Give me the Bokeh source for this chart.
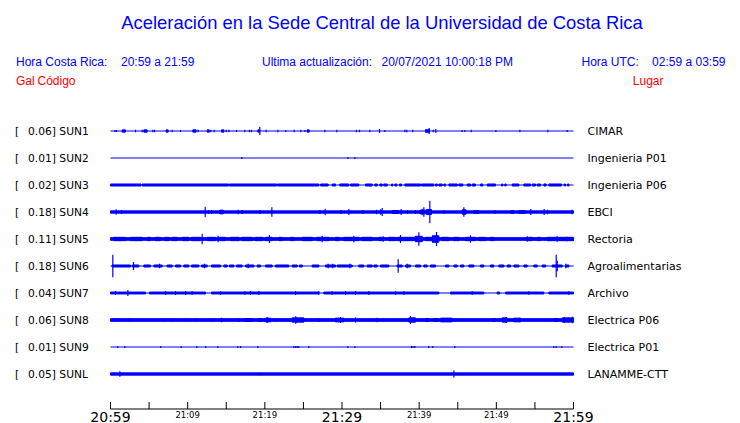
from bokeh.plotting import figure
from bokeh.models import Range1d
from bokeh.core.properties import value
from bokeh.embed import file_html
from bokeh.resources import INLINE

# ---------------- data ----------------
STATIONS = ["SUN1", "SUN2", "SUN3", "SUN4", "SUN5", "SUN6", "SUN7", "SUN8", "SUN9", "SUNL"]
MAX_GAL = ["0.06", "0.01", "0.02", "0.18", "0.11", "0.18", "0.04", "0.06", "0.01", "0.05"]
PLACES = ["CIMAR", "Ingenieria P01", "Ingenieria P06", "EBCI", "Rectoria",
          "Agroalimentarias", "Archivo", "Electrica P06", "Electrica P01", "LANAMME-CTT"]

# background amplitude (Gal) kept over the whole hour
BASE_GAL = [0.0, 0.0, 0.0, 0.019, 0.022, 0.0, 0.0, 0.022, 0.0, 0.019]

# sustained bursts: (start minute, end minute, half amplitude Gal)
SUN1_BLOCKS = [(1.51, 1.94, 0.019), (4.32, 4.75, 0.019), (7.21, 7.47, 0.019), (10.67, 11.10, 0.019),
               (12.53, 12.79, 0.019), (14.39, 14.69, 0.019), (19.09, 19.35, 0.019), (25.49, 25.75, 0.019),
               (40.82, 41.34, 0.022)]
SUN2_BLOCKS = []
SUN3_BLOCKS = [(0.0, 3.95, 0.017), (4.1, 15.3, 0.017), (15.4, 21.55, 0.017), (21.65, 27.0, 0.017),
               (27.22, 28.21, 0.017), (28.73, 29.16, 0.017), (29.72, 30.89, 0.017), (31.10, 32.18, 0.017),
               (33.05, 33.91, 0.017), (34.26, 34.56, 0.017), (34.91, 35.21, 0.017), (35.42, 35.86, 0.017),
               (36.42, 36.59, 0.017), (36.85, 37.11, 0.017), (37.45, 37.71, 0.017), (38.15, 40.18, 0.017),
               (40.31, 41.90, 0.017), (42.12, 42.34, 0.017), (42.55, 42.98, 0.017), (43.20, 43.42, 0.017),
               (43.85, 44.93, 0.017), (45.14, 45.66, 0.017), (46.22, 46.66, 0.017), (46.87, 47.30, 0.017),
               (47.95, 48.25, 0.017), (48.82, 49.90, 0.017), (50.67, 50.85, 0.017), (51.10, 51.28, 0.017),
               (52.06, 52.92, 0.017), (53.57, 54.43, 0.017), (54.65, 55.08, 0.017), (55.30, 55.73, 0.017),
               (56.16, 56.46, 0.017), (56.81, 58.45, 0.017), (58.80, 58.97, 0.017), (59.23, 59.40, 0.017)]
SUN4_BLOCKS = [(14.17, 14.60, 0.031), (36.50, 37.37, 0.025), (40.09, 40.74, 0.031), (40.91, 41.60, 0.042),
               (45.57, 46.09, 0.036), (47.09, 47.74, 0.025), (51.84, 52.27, 0.022), (52.92, 53.78, 0.022)]
SUN5_BLOCKS = [(0.43, 1.94, 0.028), (2.59, 4.10, 0.028), (4.75, 5.18, 0.028), (5.83, 6.48, 0.028),
               (7.04, 7.56, 0.028), (7.99, 8.64, 0.028), (9.29, 10.15, 0.028), (10.50, 11.66, 0.028),
               (12.53, 13.61, 0.028), (14.04, 14.90, 0.028), (15.55, 16.63, 0.028), (17.06, 18.36, 0.028),
               (18.79, 19.66, 0.028), (20.09, 20.95, 0.028), (21.82, 22.25, 0.028), (23.33, 23.76, 0.028),
               (24.84, 26.14, 0.028), (26.78, 28.30, 0.028), (29.16, 29.59, 0.028), (30.24, 32.18, 0.028),
               (32.61, 33.91, 0.028), (34.78, 35.21, 0.028), (36.07, 36.94, 0.028), (37.15, 39.53, 0.028),
               (39.50, 40.40, 0.045), (40.82, 42.55, 0.028), (41.70, 42.55, 0.055), (42.98, 43.85, 0.028),
               (44.50, 45.14, 0.028), (46.01, 47.30, 0.028), (47.74, 48.60, 0.028), (49.25, 49.68, 0.028),
               (54.00, 54.65, 0.028), (55.30, 55.73, 0.028), (56.59, 60.0, 0.028)]
SUN6_BLOCKS = [(0.22, 2.59, 0.017), (2.81, 3.67, 0.017), (4.32, 5.18, 0.017), (5.62, 6.70, 0.017),
               (7.34, 7.99, 0.017), (8.42, 9.07, 0.017), (9.50, 10.15, 0.017), (10.50, 11.45, 0.017),
               (11.79, 12.53, 0.017), (13.09, 14.26, 0.017), (14.69, 15.12, 0.017), (15.42, 15.98, 0.017),
               (16.33, 17.06, 0.017), (17.50, 18.58, 0.017), (19.01, 19.44, 0.017), (20.09, 20.95, 0.017),
               (21.38, 23.11, 0.017), (23.54, 24.19, 0.017), (24.49, 24.84, 0.017), (26.14, 27.00, 0.017),
               (27.86, 29.16, 0.017), (29.38, 31.32, 0.017), (32.18, 32.83, 0.017), (33.26, 33.91, 0.017),
               (34.13, 34.56, 0.017), (34.99, 36.07, 0.017), (37.15, 37.80, 0.017), (38.23, 38.88, 0.017),
               (39.53, 40.18, 0.017), (40.61, 41.04, 0.017), (41.47, 42.12, 0.017), (43.42, 43.85, 0.017),
               (44.50, 44.93, 0.017), (45.36, 45.79, 0.017), (46.44, 47.09, 0.017), (47.95, 48.38, 0.017),
               (49.25, 49.68, 0.017), (50.33, 50.98, 0.017), (51.41, 51.84, 0.017), (52.27, 52.92, 0.017),
               (53.57, 54.00, 0.017), (54.86, 55.30, 0.017), (55.94, 56.38, 0.017), (57.24, 58.54, 0.017),
               (58.97, 59.40, 0.017)]
SUN7_BLOCKS = [(0.0, 4.54, 0.016), (5.05, 12.31, 0.016), (13.09, 27.0, 0.016), (27.65, 42.55, 0.016),
               (44.06, 48.38, 0.016), (50.11, 50.41, 0.016), (51.19, 56.16, 0.016), (56.81, 60.0, 0.016)]
SUN8_BLOCKS = [(17.50, 18.36, 0.025), (19.22, 19.66, 0.025), (20.09, 20.74, 0.031), (23.54, 25.06, 0.036),
               (29.16, 30.24, 0.031), (38.66, 39.53, 0.036), (40.82, 41.25, 0.025), (41.90, 42.34, 0.025),
               (42.77, 44.28, 0.031), (49.46, 49.90, 0.019), (50.76, 51.41, 0.036), (52.27, 53.14, 0.031),
               (57.45, 58.10, 0.025), (58.54, 60.0, 0.036)]
SUN9_BLOCKS = []
SUNL_BLOCKS = []

# short spikes: (minute, half amplitude Gal)
SUN1_SPIKES = [(0.56, 0.008), (0.78, 0.008), (3.24, 0.014), (4.10, 0.011), (5.49, 0.014), (5.70, 0.011),
               (7.99, 0.014), (9.07, 0.008), (11.36, 0.014), (13.00, 0.014), (13.44, 0.014), (14.99, 0.014),
               (15.34, 0.014), (16.33, 0.008), (17.41, 0.014), (18.01, 0.014), (18.27, 0.014), (19.35, 0.058),
               (20.17, 0.014), (21.69, 0.011), (22.72, 0.008), (23.80, 0.011), (24.67, 0.011), (25.19, 0.008),
               (27.78, 0.011), (29.33, 0.011), (31.88, 0.014), (32.27, 0.014), (33.61, 0.011), (34.86, 0.025),
               (35.55, 0.008), (38.15, 0.014), (38.40, 0.011), (39.18, 0.011), (41.30, 0.042), (41.82, 0.011),
               (42.16, 0.025), (45.57, 0.008), (45.92, 0.008), (46.74, 0.014), (49.94, 0.008), (53.05, 0.011),
               (56.68, 0.011), (59.18, 0.008)]
SUN2_SPIKES = [(17.02, 0.008), (30.76, 0.008), (31.67, 0.008)]
SUN3_SPIKES = []
SUN4_SPIKES = [(0.73, 0.036), (1.43, 0.025), (12.27, 0.081), (12.74, 0.025), (13.09, 0.025), (16.55, 0.031),
               (17.06, 0.025), (19.35, 0.025), (20.91, 0.069), (27.13, 0.025), (27.82, 0.047), (29.85, 0.025),
               (30.89, 0.042), (32.70, 0.025), (34.47, 0.031), (34.99, 0.036), (35.21, 0.058), (37.67, 0.042),
               (38.49, 0.025), (39.53, 0.025), (40.39, 0.047), (40.61, 0.069), (41.38, 0.18), (43.20, 0.019),
               (45.79, 0.069), (49.81, 0.025), (54.47, 0.042), (56.20, 0.042), (56.64, 0.031), (59.83, 0.031)]
SUN5_SPIKES = [(11.88, 0.081), (13.95, 0.047), (20.60, 0.058), (27.43, 0.047), (31.53, 0.047), (35.34, 0.036),
               (37.58, 0.058), (39.96, 0.103), (42.25, 0.108), (46.65, 0.053), (54.00, 0.036), (57.89, 0.036),
               (59.18, 0.031)]
SUN6_SPIKES = [(0.30, 0.18), (2.98, 0.058), (6.35, 0.031), (12.18, 0.031), (17.84, 0.031), (28.21, 0.031),
               (28.81, 0.031), (31.02, 0.031), (37.28, 0.103), (38.45, 0.031), (57.76, 0.18), (57.90, 0.08),
               (59.00, 0.031)]
SUN7_SPIKES = [(0.65, 0.025), (2.25, 0.04), (7.13, 0.019), (8.42, 0.025), (9.72, 0.025), (10.58, 0.019),
               (14.26, 0.019), (17.41, 0.019), (18.14, 0.025), (19.22, 0.025), (23.98, 0.025), (27.00, 0.025),
               (28.73, 0.019), (30.46, 0.025), (31.75, 0.025), (33.48, 0.025), (36.94, 0.019), (38.02, 0.025),
               (46.87, 0.019), (54.20, 0.019), (59.40, 0.019)]
SUN8_SPIKES = [(0.43, 0.019), (0.86, 0.019), (2.59, 0.025), (4.54, 0.014), (6.91, 0.019), (7.99, 0.019),
               (9.72, 0.025), (11.02, 0.019), (13.17, 0.019), (14.39, 0.031), (16.63, 0.025), (20.30, 0.042),
               (21.38, 0.019), (22.25, 0.019), (24.00, 0.053), (27.00, 0.025), (29.80, 0.042), (31.75, 0.036),
               (34.56, 0.031), (38.88, 0.058), (51.30, 0.042), (58.80, 0.042), (59.90, 0.047)]
SUN9_SPIKES = [(0.95, 0.008), (1.86, 0.008), (6.52, 0.008), (9.16, 0.008), (11.19, 0.008), (12.35, 0.01),
               (13.91, 0.008), (16.50, 0.008), (16.85, 0.008), (19.09, 0.008), (23.76, 0.01), (24.00, 0.01),
               (24.19, 0.01), (24.41, 0.008), (25.70, 0.008), (30.76, 0.008), (31.67, 0.01), (39.00, 0.008),
               (39.20, 0.008), (39.44, 0.008), (41.25, 0.008), (41.77, 0.008), (44.62, 0.01), (57.45, 0.008),
               (57.76, 0.008), (58.49, 0.01)]
SUNL_SPIKES = [(1.21, 0.036), (19.44, 0.014), (33.05, 0.008), (44.50, 0.05)]

TICK_MINUTES = [0, 5, 10, 15, 20, 25, 30, 35, 40, 45, 50, 55, 60]
LABEL_MINUTES = [0, 10, 20, 30, 40, 50, 60]
LABEL_TEXTS = ["20:59", "21:09", "21:19", "21:29", "21:39", "21:49", "21:59"]
BIG_LABELS = [True, False, False, True, False, False, True]

# ---------------- layout ----------------
BLOCKS = [SUN1_BLOCKS, SUN2_BLOCKS, SUN3_BLOCKS, SUN4_BLOCKS, SUN5_BLOCKS,
          SUN6_BLOCKS, SUN7_BLOCKS, SUN8_BLOCKS, SUN9_BLOCKS, SUNL_BLOCKS]
SPIKES = [SUN1_SPIKES, SUN2_SPIKES, SUN3_SPIKES, SUN4_SPIKES, SUN5_SPIKES,
          SUN6_SPIKES, SUN7_SPIKES, SUN8_SPIKES, SUN9_SPIKES, SUNL_SPIKES]

W, H = 740, 423
X0_PX, PX_PER_MIN = 110.0, 463.0 / 60.0          # px of minute 0, px per minute
GAL_PX = 60.0                                    # px per Gal
BLUE = "#0000ff"
RED = "#ff0000"


def tx(px):
    return (px - X0_PX) / PX_PER_MIN


def row_y(i):
    return 130.5 + 27.0 * i


p = figure(width=W, height=H, output_backend="svg", toolbar_location=None,
           x_range=Range1d(tx(0), tx(W)), y_range=Range1d(H, 0),
           x_axis_type=None, y_axis_type=None, min_border=0)
p.grid.visible = False
p.outline_line_color = None
p.background_fill_color = "white"
p.border_fill_color = "white"

for i in range(len(STATIONS)):
    y = row_y(i)
    p.segment(x0=[0], x1=[60], y0=[y], y1=[y], line_color=BLUE, line_width=1)
    if BASE_GAL[i] > 0:
        h = BASE_GAL[i] * GAL_PX
        p.quad(left=[0], right=[60], top=[y - h], bottom=[y + h],
               fill_color=BLUE, line_color=BLUE, line_width=1)
    blk = BLOCKS[i]
    if blk:
        p.quad(left=[b[0] for b in blk], right=[b[1] for b in blk],
               top=[y - b[2] * GAL_PX for b in blk], bottom=[y + b[2] * GAL_PX for b in blk],
               fill_color=BLUE, line_color=BLUE, line_width=1)
    spk = SPIKES[i]
    if spk:
        p.segment(x0=[s[0] for s in spk], x1=[s[0] for s in spk],
                  y0=[y - s[1] * GAL_PX - 0.5 for s in spk], y1=[y + s[1] * GAL_PX + 0.5 for s in spk],
                  line_color=BLUE, line_width=1.2)

# left / right labels
ys = [row_y(i) for i in range(len(STATIONS))]
p.text(x=[tx(14.5)] * len(ys), y=ys, text=["["] * len(ys),
       text_font=value("DejaVu Sans"), text_font_size="10.7px", text_color="black",
       text_baseline="middle", text_align="left")
p.text(x=[tx(27.5)] * len(ys), y=ys, text=[f"{m}] {s}" for m, s in zip(MAX_GAL, STATIONS)],
       text_font=value("DejaVu Sans"), text_font_size="10.7px", text_color="black",
       text_baseline="middle", text_align="left")
p.text(x=[tx(587)] * len(ys), y=ys, text=PLACES,
       text_font=value("DejaVu Sans"), text_font_size="11px", text_color="black",
       text_baseline="middle", text_align="left")

# time axis
AX_Y = 408.5
p.segment(x0=[0], x1=[60], y0=[AX_Y], y1=[AX_Y], line_color="black", line_width=1)
p.segment(x0=TICK_MINUTES, x1=TICK_MINUTES, y0=[AX_Y] * len(TICK_MINUTES),
          y1=[AX_Y - 7] * len(TICK_MINUTES), line_color="black", line_width=1)
big = [(m, t) for m, t, b in zip(LABEL_MINUTES, LABEL_TEXTS, BIG_LABELS) if b]
small = [(m, t) for m, t, b in zip(LABEL_MINUTES, LABEL_TEXTS, BIG_LABELS) if not b]
p.text(x=[m for m, _ in big], y=[416] * len(big), text=[t for _, t in big],
       text_font=value("DejaVu Sans"), text_font_size="14px", text_color="black",
       text_baseline="middle", text_align="center")
p.text(x=[m for m, _ in small], y=[414.5] * len(small), text=[t for _, t in small],
       text_font=value("DejaVu Sans"), text_font_size="8.5px", text_color="black",
       text_baseline="middle", text_align="center")

# header texts
TITLE = "Aceleración en la Sede Central de la Universidad de Costa Rica"
p.text(x=[tx(381.5)], y=[22], text=[TITLE], text_font=value("Liberation Sans"),
       text_font_size="18.4px", text_color=BLUE, text_baseline="middle", text_align="center")
hdr = [("Hora Costa Rica:", 15.5, "left"), ("20:59 a 21:59", 120.5, "left"),
       ("Ultima actualización:", 261.5, "left"), ("20/07/2021 10:00:18 PM", 381, "left"),
       ("Hora UTC:", 581, "left"), ("02:59 a 03:59", 725, "right")]
for t, x, al in hdr:
    p.text(x=[tx(x)], y=[61], text=[t], text_font=value("Liberation Sans"),
           text_font_size="12px", text_color=BLUE, text_baseline="middle", text_align=al)
for t, x, al in [("Gal", 15.5, "left"), ("Código", 37, "left"), ("Lugar", 663, "right")]:
    p.text(x=[tx(x)], y=[80], text=[t], text_font=value("Liberation Sans"),
           text_font_size="12px", text_color=RED, text_baseline="middle", text_align=al)

open("out.html", "w").write(file_html(p, INLINE))
